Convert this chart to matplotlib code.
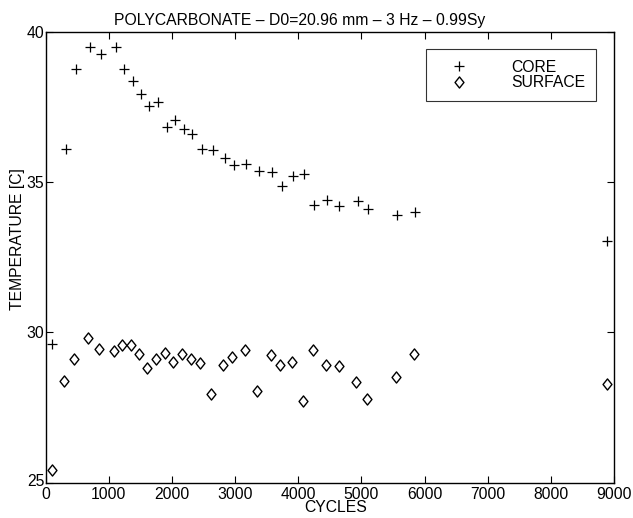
import numpy as np
import matplotlib
matplotlib.use("Agg")
import matplotlib.pyplot as plt
import matplotlib.transforms as mtransforms
from matplotlib.path import Path

plt.rcParams['font.family'] = ['Liberation Sans', 'DejaVu Sans']

# core temperature (+)
core_cycles = [105, 316, 474, 701, 870, 1113, 1240, 1382, 1504, 1636, 1773, 1921, 2048,
               2191, 2322, 2476, 2645, 2835, 2988, 3178, 3384, 3590, 3744, 3918, 4092,
               4255, 4460, 4650, 4937, 5107, 5561, 5847, 8890]
core_temp = [29.6, 36.13, 38.77, 39.5, 39.27, 39.5, 38.77, 38.39, 37.94, 37.55, 37.69, 36.85,
             37.09, 36.79, 36.61, 36.11, 36.09, 35.82, 35.57, 35.63, 35.38, 35.34, 34.89,
             35.23, 35.27, 34.24, 34.4, 34.22, 34.38, 34.1, 33.93, 34.0, 33.04]

# surface temperature (diamonds)
surf_cycles = [100, 284, 447, 674, 843, 1086, 1213, 1351, 1477, 1609, 1747, 1894, 2021,
               2164, 2302, 2449, 2623, 2803, 2956, 3152, 3352, 3569, 3717, 3897, 4072,
               4240, 4433, 4640, 4911, 5086, 5539, 5825, 8890]
surf_temp = [25.41, 28.38, 29.1, 29.83, 29.44, 29.39, 29.59, 29.59, 29.29, 28.82, 29.13, 29.33,
             29.01, 29.29, 29.12, 28.97, 27.94, 28.91, 29.17, 29.43, 28.04, 29.24, 28.91,
             29.01, 27.71, 29.41, 28.9, 28.88, 28.34, 27.79, 28.5, 29.27, 28.29]

xticks = [0, 1000, 2000, 3000, 4000, 5000, 6000, 7000, 8000, 9000]
yticks = [25, 30, 35, 40]

# slightly tall diamond like the old matlab marker
diamond = Path([(0, 1), (0.8, 0), (0, -1), (-0.8, 0), (0, 1)],
               [Path.MOVETO, Path.LINETO, Path.LINETO, Path.LINETO, Path.CLOSEPOLY])

fs = 11.3

fig = plt.figure(figsize=(6.33, 5.18), dpi=100)
ax = fig.add_axes([0.0722, 0.0685, 0.898, 0.869])

ax.plot(core_cycles, core_temp, linestyle='none', marker='+', markersize=7.5,
        markeredgewidth=0.9, color='black', label='CORE')
ax.plot(surf_cycles, surf_temp, linestyle='none', marker=diamond, markersize=8,
        markeredgewidth=1.0, markerfacecolor='none', color='black', label='SURFACE')

ax.set_xlim(0, 9000)
ax.set_ylim(25, 40)
ax.set_xticks(xticks)
ax.set_yticks(yticks)
ax.tick_params(direction='in', top=True, right=True, length=5, width=0.8,
               labelsize=fs)
ax.tick_params(axis='x', pad=3)
ax.tick_params(axis='y', pad=1)
for s in ax.spines.values():
    s.set_linewidth(1.0)

# lift the "25" a touch so it sits beside the "0" like the original
lbl = ax.get_yticklabels()[0]
lbl.set_transform(lbl.get_transform() + mtransforms.ScaledTranslation(0, 3 / 100, fig.dpi_scale_trans))

ax.set_xlabel('CYCLES', fontsize=fs)
ax.xaxis.set_label_coords(0.51, -0.038, transform=ax.transAxes)
ax.set_ylabel('TEMPERATURE [C]', fontsize=fs)
ax.yaxis.set_label_coords(-0.036, 0.54)
fig.text(300 / 633, 1 - 20 / 518, 'POLYCARBONATE \u2013 D0=20.96 mm \u2013 3 Hz \u2013 0.99Sy',
         fontsize=fs, ha='center', va='center')

leg = ax.legend(loc='upper right', bbox_to_anchor=(0.9685, 0.9635), borderaxespad=0,
                fontsize=fs, frameon=True, fancybox=False, edgecolor='black',
                handlelength=2.8, handletextpad=1.9, borderpad=0.7, labelspacing=0.02)
leg.get_frame().set_linewidth(0.8)

fig.savefig('out.png', dpi=100)
